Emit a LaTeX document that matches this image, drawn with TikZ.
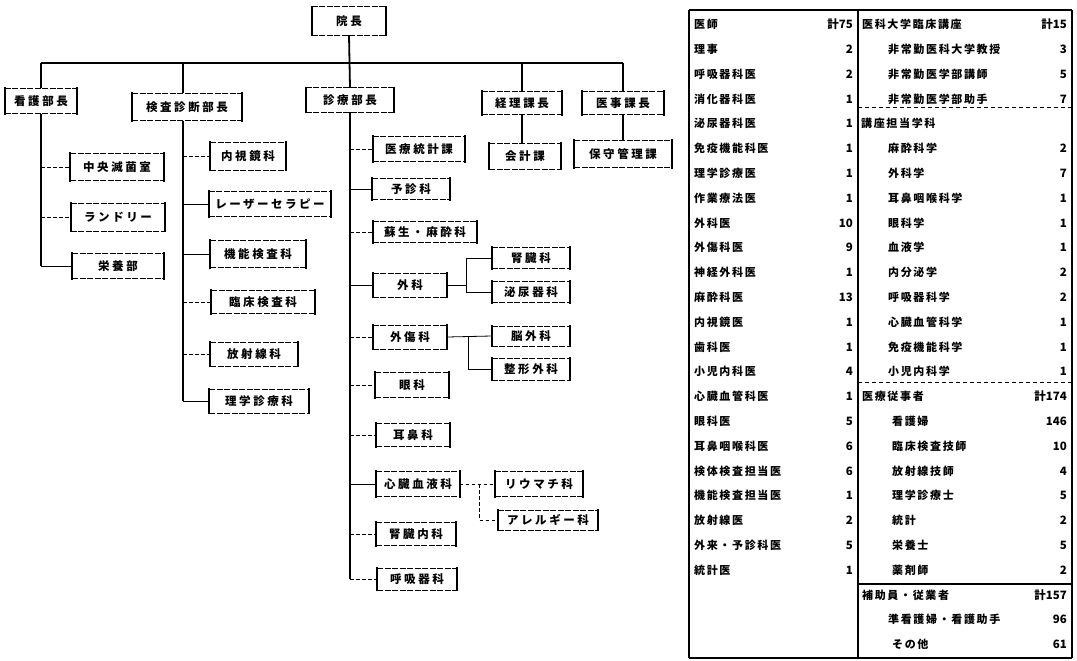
\documentclass[tikz,border=0pt]{standalone}
\usepackage{fontspec}
\newfontfamily\jpbox{Noto Sans CJK JP}[LetterSpace=22]
\newfontfamily\jptab{Noto Sans CJK JP}[LetterSpace=15]
\newfontfamily\jpnum{Noto Sans CJK JP}
\begin{document}
\begin{tikzpicture}[x=1pt,y=-1pt,
  boxside/.style={draw=black, line width=2.3pt, line cap=rect},
  boxedge/.style={draw=black, line width=0.6pt, dash pattern=on 6pt off 1.5pt},
  bx/.style={inner sep=0pt, font=\jpbox\bfseries\fontsize{11.5}{13}\selectfont},
  trunk/.style={line width=1.8pt},
  hbar/.style={line width=1.3pt},
  scon/.style={line width=0.8pt},
  dcon/.style={line width=0.8pt, dash pattern=on 3.5pt off 2.5pt},
  lt/.style={anchor=west, inner sep=0pt, font=\jptab\bfseries\fontsize{11}{13}\selectfont},
  ln/.style={anchor=east, inner sep=0pt, font=\jpnum\bfseries\fontsize{11.5}{13}\selectfont},
]
\useasboundingbox (0,0) rectangle (1077,661);

% ---------- organisation chart ----------
\node[bx, minimum width=74, minimum height=28] (inchou) at (349,21) {院長};

\node[bx, minimum width=72, minimum height=25] (kango)   at (41,101)  {看護部長};
\node[bx, minimum width=109, minimum height=27] (kensa)  at (187,107) {検査診断部長};
\node[bx, minimum width=88, minimum height=24] (shinryo) at (350,100) {診療部長};
\node[bx, minimum width=80, minimum height=23] (keiri)   at (522,103) {経理課長};
\node[bx, minimum width=82, minimum height=23] (iji)     at (623,103) {医事課長};

% nursing
\node[bx, minimum width=93, minimum height=27] (chuo)    at (117,167) {中央滅菌室};
\node[bx, minimum width=94, minimum height=28] (laundry) at (118,217) {ランドリー};
\node[bx, minimum width=91, minimum height=25] (eiyo)    at (118,266) {栄養部};

% examination and diagnosis
\node[bx, minimum width=75, minimum height=28]  (naishi) at (248,156) {内視鏡科};
\node[bx, minimum width=122, minimum height=25] (laser)  at (270,204) {レーザーセラピー};
\node[bx, minimum width=95, minimum height=27]  (kino)   at (258,254) {機能検査科};
\node[bx, minimum width=103, minimum height=23] (rinsho) at (263,302) {臨床検査科};
\node[bx, minimum width=87, minimum height=24]  (hosha)  at (254,354) {放射線科};
\node[bx, minimum width=99, minimum height=24]  (rigaku) at (259,401) {理学診療科};

% clinical departments
\node[bx, minimum width=92, minimum height=25]  (toukei) at (419,149) {医療統計課};
\node[bx, minimum width=77, minimum height=21]  (yoshin) at (411,189) {予診科};
\node[bx, minimum width=104, minimum height=21] (sosei)  at (425,232) {蘇生・麻酔科};
\node[bx, minimum width=74, minimum height=24]  (geka)   at (410,285) {外科};
\node[bx, minimum width=78, minimum height=21]  (jinzo)  at (531,258) {腎臓科};
\node[bx, minimum width=78, minimum height=21]  (hinyo)  at (531,292) {泌尿器科};
\node[bx, minimum width=74, minimum height=24]  (gaisho) at (410,337) {外傷科};
\node[bx, minimum width=78, minimum height=20]  (nou)    at (531,336) {脳外科};
\node[bx, minimum width=78, minimum height=22]  (seikei) at (531,369) {整形外科};
\node[bx, minimum width=73, minimum height=25]  (ganka)  at (412,385) {眼科};
\node[bx, minimum width=73, minimum height=23]  (jibi)   at (413,435) {耳鼻科};
\node[bx, minimum width=83, minimum height=25]  (shinzo) at (418,484) {心臓血液科};
\node[bx, minimum width=88, minimum height=25]  (riuma)  at (539,484) {リウマチ科};
\node[bx, minimum width=100, minimum height=20] (allergy) at (548,520) {アレルギー科};
\node[bx, minimum width=79, minimum height=23]  (jinnai) at (416,534) {腎臓内科};
\node[bx, minimum width=79, minimum height=22]  (kokyu)  at (417,579) {呼吸器科};

% accounts and medical affairs
\node[bx, minimum width=71, minimum height=26] (kaikei) at (525,156) {会計課};
\node[bx, minimum width=97, minimum height=27] (hoshu)  at (623,154) {保守管理課};

% box frames: light broken top and bottom, heavy bracket sides
\foreach \n in {inchou, kango, kensa, shinryo, keiri, iji, chuo, laundry, eiyo,
    naishi, laser, kino, rinsho, hosha, rigaku, toukei, yoshin, sosei, geka, jinzo,
    hinyo, gaisho, nou, seikei, ganka, jibi, shinzo, riuma, allergy, jinnai, kokyu,
    kaikei, hoshu}
{
  \path[boxedge] (\n.north west) -- (\n.north east) (\n.south west) -- (\n.south east);
  \path[boxside] (\n.north west) -- (\n.south west) (\n.north east) -- (\n.south east);
}

% ---------- connectors ----------
\coordinate (bar) at (0,63);
\coordinate (kx) at ([xshift=-4pt]kensa.south);
\draw[hbar] (kango.north |- bar) -- (iji.north |- bar);
\draw[trunk] (inchou.south) -- (shinryo.north);
\draw[trunk] (kango.north |- bar) -- (kango.north);
\draw[trunk] (kx |- bar) -- (kx |- kensa.north);
\draw[trunk] (keiri.north |- bar) -- (keiri.north);
\draw[trunk] (iji.north |- bar) -- (iji.north);
\draw[trunk] (keiri.south) -- (keiri.south |- kaikei.north);
\draw[trunk] (iji.south) -- (iji.south |- hoshu.north);

% nursing branch
\draw[trunk] (kango.south) -- (kango.south |- eiyo.west);
\draw[scon] (kango.south |- eiyo.west) -- (eiyo.west);
\foreach \n in {chuo, laundry} \draw[dcon] (kango.south |- \n.west) -- (\n.west);

% examination branch
\draw[trunk] (kx) -- (kx |- rigaku.west);
\foreach \n in {laser, kino, rigaku} \draw[scon] (kx |- \n.west) -- (\n.west);
\foreach \n in {naishi, rinsho, hosha} \draw[dcon] (kx |- \n.west) -- (\n.west);

% clinical branch
\draw[trunk] (shinryo.south) -- (shinryo.south |- kokyu.west);
\foreach \n in {yoshin, geka, shinzo} \draw[scon] (shinryo.south |- \n.west) -- (\n.west);
\foreach \n in {toukei, sosei, gaisho, ganka, jibi, jinnai, kokyu}
  \draw[dcon] (shinryo.south |- \n.west) -- (\n.west);

% surgery sub-departments
\coordinate (gf) at ([xshift=19pt]geka.east);
\draw[scon] (geka.east) -- (gf |- geka.east);
\draw[scon] (jinzo.west) -| (gf |- hinyo.west) -- (hinyo.west);

% trauma sub-departments
\coordinate (tf) at ([xshift=21pt]gaisho.east);
\draw[scon] (gaisho.east) -- (nou.west);
\draw[line width=1.4pt] (tf |- gaisho.east) -- (tf |- seikei.west);
\draw[scon] (tf |- seikei.west) -- (seikei.west);

% cardiology sub-departments
\coordinate (sf) at ([xshift=20pt]shinzo.east);
\draw[dcon] (shinzo.east) -- (riuma.west);
\draw[dcon] (sf |- shinzo.east) -- (sf |- allergy.west) -- (allergy.west);

% ---------- staff table ----------
\draw[line width=1.2pt] (689,10) -- (1072,10);
\draw[line width=2pt] (689,10) -- (689,658);
\draw[line width=1.6pt] (858,10) -- (858,658);
\draw[line width=1.4pt] (1072,10) -- (1072,658);
\draw[line width=1.2pt] (689,658) -- (1072,658);
\draw[line width=1pt, dash pattern=on 4pt off 3pt] (858,107) -- (1072,107);
\draw[line width=1pt, dash pattern=on 4pt off 3pt] (858,382) -- (1072,382);
\draw[line width=1.5pt] (858,584) -- (1072,584);

% physicians
\foreach \t/\n [count=\i from 0] in {医師/計75, 理事/2, 呼吸器科医/2, 消化器科医/1, 泌尿器科医/1,
    免疫機能科医/1, 理学診療医/1, 作業療法医/1, 外科医/10, 外傷科医/9, 神経外科医/1,
    麻酔科医/13, 内視鏡医/1, 歯科医/1, 小児内科医/4, 心臓血管科医/1, 眼科医/5,
    耳鼻咽喉科医/6, 検体検査担当医/6, 機能検査担当医/1, 放射線医/2, 外来・予診科医/5, 統計医/1}
{
  \node[lt] (L\i) at (694,{24.5+24.8*\i}) {\t};
  \node[ln] (LN\i) at (853,{24.5+24.8*\i}) {\n};
}

% university staff, staff and assistants
\foreach \i/\d/\t/\n in {0/0/医科大学臨床講座/計15, 1/26/非常勤医科大学教授/3, 2/26/非常勤医学部講師/5,
    3/26/非常勤医学部助手/7, 5/26/麻酔科学/2, 6/26/外科学/7, 7/26/耳鼻咽喉科学/1, 8/26/眼科学/1,
    9/26/血液学/1, 10/26/内分泌学/2, 11/26/呼吸器科学/2, 12/26/心臓血管科学/1, 13/26/免疫機能科学/1,
    14/26/小児内科学/1, 15/0/医療従事者/計174, 16/30/看護婦/146, 17/30/臨床検査技師/10,
    18/30/放射線技師/4, 19/30/理学診療士/5, 20/30/統計/2, 21/30/栄養士/5, 22/30/薬剤師/2,
    23/0/補助員・従業者/計157, 24/26/準看護婦・看護助手/96, 25/30/その他/61}
{
  \node[lt] (R\i) at ({862+\d},{24.5+24.8*\i}) {\t};
  \node[ln] (RN\i) at (1067,{24.5+24.8*\i}) {\n};
}
\node[lt] (R4) at (861,{24.5+24.8*4}) {講座担当学科};

\end{tikzpicture}
\end{document}
